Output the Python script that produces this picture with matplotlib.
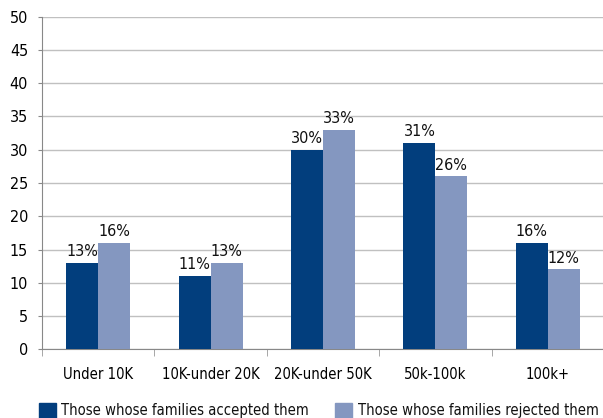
import numpy as np
import matplotlib.pyplot as plt
from matplotlib.patches import Rectangle

# income brackets and percentages
categories = ["Under 10K", "10K-under 20K", "20K-under 50K", "50k-100k", "100k+"]
accepted = [13, 11, 30, 31, 16]
rejected = [16, 13, 33, 26, 12]
series_names = ["Those whose families accepted them",
                "Those whose families rejected them"]

dark_blue = "#023e7d"
light_blue = "#8497c0"

plt.rcParams["font.family"] = ["DejaVu Sans"]
plt.rcParams["font.stretch"] = "condensed"

W, H = 603, 418
fig = plt.figure(figsize=(W / 100, H / 100), dpi=100)
ax = fig.add_axes([42 / W, (H - 349.3) / H, 562 / W, (349.3 - 16.7) / H])

x = np.arange(len(categories))
width = 0.285

bars1 = ax.bar(x - width / 2, accepted, width, color=dark_blue, zorder=3)
bars2 = ax.bar(x + width / 2, rejected, width, color=light_blue, zorder=3)

for bars, values in [(bars1, accepted), (bars2, rejected)]:
    for bar, v in zip(bars, values):
        ax.text(bar.get_x() + bar.get_width() / 2, v + 0.55, f"{v}%",
                ha="center", va="bottom", fontsize=11.5, color="#111111")

ax.set_xlim(-0.5, 4.5)
ax.set_ylim(0, 50)
ax.set_yticks(range(0, 51, 5))
ax.tick_params(axis="y", labelsize=11.5, length=3, color="#888888", pad=7)
ax.yaxis.grid(True, color="#c0c0c0", linewidth=1, zorder=0)

# category labels in the middle, tick marks on the boundaries
ax.set_xticks(x)
ax.set_xticklabels(categories, fontsize=10.6)
ax.tick_params(axis="x", length=0, pad=13)
ax.set_xticks(np.arange(-0.5, 5, 1), minor=True)
ax.tick_params(axis="x", which="minor", length=5, color="#999999")

for side in ["top", "right"]:
    ax.spines[side].set_visible(False)
ax.spines["left"].set_color("#888888")
ax.spines["bottom"].set_color("#888888")

# legend along the bottom edge, partly cut off like the original
legend_x = [39, 335]
for lx, color, name in zip(legend_x, [dark_blue, light_blue], series_names):
    fig.patches.append(Rectangle((lx / W, 0), 17 / W, 15.5 / H,
                                 transform=fig.transFigure, color=color))
    fig.text((lx + 22.5) / W, 2.5 / H, name, fontsize=10.6,
             ha="left", va="baseline", color="#111111")

plt.savefig("out.png", dpi=100)
